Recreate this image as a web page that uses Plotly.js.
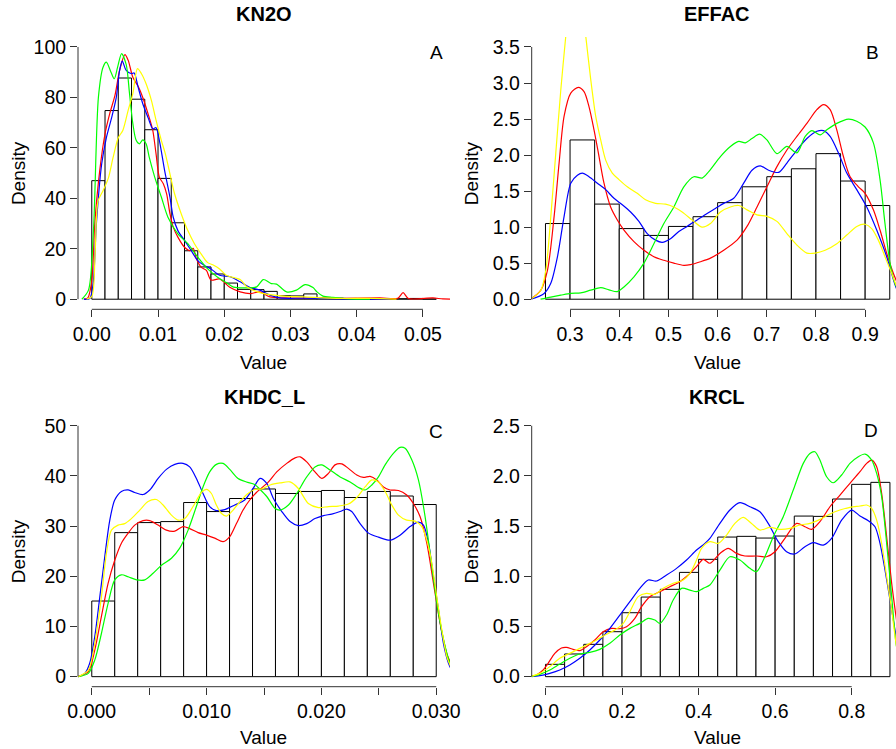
<!DOCTYPE html>
<html><head><meta charset="utf-8">
<script src="https://cdn.plot.ly/plotly-3.0.1.min.js"></script>
<style>html,body{margin:0;padding:0;background:#fff}#chart{width:896px;height:749px}</style>
</head><body><div id="chart"></div>
<script>
// ---------- Panel A: KN2O ----------
const kn2oEdges = [0,0.002,0.004,0.006,0.008,0.010,0.012,0.014,0.016,0.018,0.020,0.022,0.024,0.026,0.028,0.030,0.032,0.034,0.036,0.038,0.040,0.042,0.044,0.046,0.048,0.050,0.052];
const kn2oDensity = [47.0,74.8,87.7,79.3,67.2,47.9,30.3,19.2,12.8,10.0,6.4,3.9,3.8,3.1,1.4,1.3,2.1,0.5,0.4,0.3,0.2,0.1,0.1,0.2,0.3,0.1,0.2];
const kn2oRedX = [-0.0012,-0.0006,0,0.00045,0.0012,0.002,0.0027,0.0035,0.0042,0.005,0.0055,0.0062,0.007,0.0077,0.0085,0.0092,0.0097,0.0102,0.0108,0.0113,0.0118,0.0123,0.013,0.014,0.0148,0.0153,0.0158,0.0165,0.0173,0.018,0.0193,0.0209,0.0224,0.0239,0.0254,0.0269,0.029,0.033,0.038,0.0435,0.0462,0.047,0.0478,0.0515,0.053,0.055];
const kn2oRedY = [0,0.5,7.4,30,51,65.6,73.5,80.8,90.7,97,94.7,88,84.4,80,73.5,67,57.7,48.4,45.8,41.8,33.9,28.6,24.6,20.6,19.3,20.2,16,12.7,11.4,7.6,8.0,4.6,2.9,2.2,2.9,0.9,0.5,0.4,0.3,0.5,0.4,2.6,0.3,0.5,0.1,0];
const kn2oBlueX = [-0.0012,-0.0003,0.0002,0.0007,0.0015,0.0022,0.003,0.0037,0.0042,0.0046,0.0052,0.006,0.0064,0.007,0.0077,0.0085,0.0092,0.0097,0.0102,0.011,0.0118,0.0123,0.013,0.014,0.015,0.016,0.017,0.018,0.0193,0.0209,0.0224,0.0239,0.0254,0.0269,0.0284,0.032,0.036,0.04,0.045];
const kn2oBlueY = [0,0.3,6,30,53.7,64,72,80,90.7,94.4,90.7,89.4,89.7,84,77.5,72,67.6,68,63,51,40.5,32.5,27.2,23.3,19.3,15.3,13.4,12,9.5,8.9,6.9,4.6,3.6,1.6,0.5,0.4,0.2,0.05,0];
const kn2oGreenX = [-0.0015,-0.0005,0.00025,0.001,0.0017,0.0022,0.0029,0.0034,0.0039,0.0045,0.0052,0.0057,0.0062,0.0067,0.0072,0.0077,0.0082,0.0087,0.0095,0.0105,0.0115,0.013,0.0145,0.016,0.0175,0.019,0.0203,0.0214,0.0234,0.0249,0.0259,0.0271,0.0279,0.0294,0.0309,0.0322,0.0334,0.034,0.0349,0.0364,0.039,0.042];
const kn2oGreenY = [0,3.6,27,80,92,94,90,87.4,92,97.4,93,81.5,69.6,63,61.6,63.2,61.6,56,48.4,40.5,32.5,25.9,22,16.7,12,8.7,6.6,4.8,4.5,4.9,7.8,6.2,6,2.9,3.6,5.8,4.6,2.9,1.2,0.7,0.1,0];
const kn2oYellowX = [-0.0008,0,0.0005,0.00095,0.0017,0.0025,0.0032,0.004,0.0047,0.0055,0.0062,0.0069,0.0075,0.0082,0.009,0.0097,0.0105,0.0111,0.0118,0.0125,0.0135,0.0145,0.0155,0.0165,0.0175,0.0184,0.0193,0.0203,0.0224,0.0234,0.025,0.0264,0.029,0.032,0.037,0.042,0.046];
const kn2oYellowY = [0,1,18,39,43,48,56,64,67,75,81.5,91.4,89.4,85.4,78.8,71,63,57.7,49.7,41.8,33.9,27.2,22,18,14.5,13.5,12,9.5,7.8,4.9,2.9,2.0,1.2,0.9,0.3,0.3,0];

// ---------- Panel B: EFFAC ----------
const effacEdges = [0.25,0.30,0.35,0.40,0.45,0.50,0.55,0.60,0.65,0.70,0.75,0.80,0.85,0.90,0.95];
const effacDensity = [1.05,2.21,1.32,0.98,0.885,1.01,1.145,1.34,1.56,1.70,1.81,2.02,1.64,1.30];
const effacRedX = [0.2203,0.2406,0.254,0.2676,0.2777,0.2879,0.3014,0.317,0.3284,0.3386,0.3487,0.3589,0.369,0.3825,0.3961,0.4096,0.4299,0.4502,0.4704,0.4907,0.511,0.5313,0.5448,0.5651,0.5854,0.6124,0.6395,0.6598,0.6801,0.7003,0.7206,0.7409,0.7612,0.7815,0.8017,0.8153,0.8288,0.8423,0.8558,0.8694,0.8863,0.8998,0.9167,0.9302,0.9437,0.9573,0.97];
const effacRedY = [0,0.125,0.40,1.15,1.89,2.54,2.86,2.94,2.88,2.67,2.35,1.98,1.61,1.28,1.10,0.96,0.80,0.68,0.59,0.54,0.50,0.47,0.48,0.52,0.57,0.68,0.82,1.01,1.28,1.56,1.84,2.07,2.26,2.44,2.63,2.70,2.63,2.35,1.98,1.70,1.56,1.47,1.24,0.96,0.64,0.36,0.15];
const effacBlueX = [0.2203,0.2473,0.2608,0.2744,0.2879,0.3014,0.3149,0.325,0.3386,0.3555,0.3724,0.3893,0.4062,0.4231,0.44,0.4569,0.4738,0.4873,0.5042,0.5211,0.538,0.5583,0.5786,0.5955,0.6124,0.6327,0.653,0.6699,0.6868,0.7037,0.724,0.7409,0.7612,0.7815,0.8017,0.8153,0.8288,0.8457,0.8626,0.8829,0.9032,0.9235,0.9437,0.9613,0.97];
const effacBlueY = [0,0.08,0.22,0.59,1.15,1.61,1.72,1.75,1.70,1.61,1.52,1.40,1.31,1.21,1.08,0.91,0.82,0.79,0.84,0.94,1.01,1.10,1.19,1.26,1.33,1.40,1.61,1.79,1.85,1.79,1.76,1.89,2.07,2.23,2.33,2.34,2.26,2.03,1.75,1.52,1.28,0.96,0.59,0.19,0.05];
const effacGreenX = [0.24,0.2608,0.2811,0.3014,0.3217,0.342,0.3623,0.3791,0.3961,0.4096,0.4299,0.4502,0.4704,0.4907,0.511,0.5313,0.5516,0.5685,0.582,0.6057,0.626,0.6429,0.6564,0.6699,0.6855,0.7003,0.7206,0.7409,0.7612,0.7781,0.7916,0.8085,0.822,0.8423,0.866,0.8829,0.8998,0.9167,0.9302,0.9403,0.9505,0.9606,0.97];
const effacGreenY = [0,0.03,0.056,0.08,0.088,0.125,0.16,0.13,0.105,0.17,0.31,0.50,0.77,1.05,1.28,1.56,1.70,1.68,1.77,1.98,2.12,2.19,2.17,2.23,2.29,2.21,2.02,2.12,2.03,2.26,2.34,2.28,2.35,2.44,2.50,2.47,2.39,2.17,1.66,1.05,0.50,0.22,0.08];
const effacYellowX = [0.2203,0.2406,0.2507,0.2609,0.271,0.2811,0.2913,0.30,0.312,0.322,0.3319,0.342,0.3521,0.3623,0.3724,0.3859,0.3995,0.4164,0.4366,0.4535,0.4738,0.4941,0.511,0.5279,0.5516,0.5685,0.5854,0.6057,0.626,0.6429,0.6598,0.6801,0.7003,0.7206,0.7409,0.7612,0.7815,0.7984,0.8187,0.8423,0.8626,0.8829,0.8998,0.9133,0.9268,0.9403,0.9539,0.9613,0.97];
const effacYellowY = [0,0.125,0.40,1.15,2.03,2.9,3.65,4.2,4.5,4.2,3.65,3.05,2.54,2.21,1.93,1.75,1.66,1.56,1.47,1.38,1.33,1.32,1.28,1.21,1.08,1.0,1.05,1.21,1.28,1.30,1.24,1.17,1.15,1.08,0.91,0.75,0.64,0.64,0.68,0.77,0.89,1.01,1.04,0.98,0.82,0.59,0.36,0.22,0.1];

// ---------- Panel C: KHDC_L ----------
const khdcEdges = [0,0.002,0.004,0.006,0.008,0.010,0.012,0.014,0.016,0.018,0.020,0.022,0.024,0.026,0.028,0.030];
const khdcDensity = [15.07,28.7,30.7,30.9,34.7,32.9,35.5,37.4,36.5,36.9,37.1,35.7,36.9,36.0,34.3];
const khdcRedX = [-0.0012,-0.0003,0.00026,0.00084,0.00142,0.002,0.00258,0.00317,0.00374,0.00447,0.00505,0.00578,0.0065,0.00723,0.00795,0.00853,0.00926,0.00999,0.01071,0.01144,0.01202,0.0126,0.01318,0.01376,0.01434,0.01539,0.01611,0.01698,0.01771,0.01815,0.01872,0.01944,0.02003,0.02061,0.02119,0.02177,0.02235,0.02308,0.02366,0.02424,0.02482,0.0254,0.02598,0.02671,0.02743,0.02801,0.02859,0.02918,0.02976,0.03034,0.03092,0.0313];
const khdcRedY = [0,1.0,5.3,12.0,18.6,23.2,26.6,28.6,30.2,31.1,31.1,30.2,29.2,29.0,29.9,29.5,28.7,28.2,27.6,26.9,27.9,30.5,33.2,35.2,36.7,38.8,40.8,42.5,43.6,43.8,42.8,40.8,39.5,40.5,42.2,42.4,41.5,40.2,39.7,39.9,39.2,37.8,37.2,37.1,36.2,34.5,31.9,26.6,18.6,10.6,4.6,2.5];
const khdcBlueX = [-0.0012,-0.0006,-0.00018,0.00026,0.0007,0.00113,0.00157,0.002,0.00258,0.00317,0.00374,0.00447,0.00505,0.00578,0.0065,0.00723,0.00795,0.00853,0.00911,0.00969,0.01027,0.01085,0.01158,0.01245,0.01332,0.01405,0.01466,0.01524,0.01582,0.01655,0.01727,0.01799,0.01872,0.01944,0.02018,0.0209,0.02163,0.0222,0.02264,0.02337,0.0241,0.02497,0.02598,0.02685,0.02772,0.02845,0.02889,0.02933,0.02976,0.0302,0.03063,0.03107,0.0313];
const khdcBlueY = [0,0.66,2.66,8.0,15.9,23.9,31.2,35.2,36.9,37.2,36.7,36.3,37.2,39.5,41.3,42.3,42.5,41.8,39.5,36.5,33.9,33.1,33.3,34.2,35.2,37.5,39.5,38.5,35.5,32.9,30.9,30.1,30.5,31.5,32.1,32.4,32.9,33.4,32.9,30.5,28.6,27.8,27.2,28.2,29.9,30.8,30.2,26.6,19.9,13.3,6.6,2.66,1.5];
const khdcGreenX = [-0.0012,-0.0003,0.00026,0.00084,0.00142,0.002,0.00258,0.00317,0.0039,0.00462,0.00534,0.00607,0.00694,0.00766,0.00839,0.00911,0.00969,0.01027,0.01085,0.01144,0.01202,0.01274,0.01347,0.01419,0.01466,0.01524,0.01597,0.0164,0.01713,0.01785,0.01872,0.01944,0.02003,0.02075,0.02163,0.0225,0.02323,0.02381,0.02439,0.02497,0.02555,0.02627,0.02685,0.02729,0.02787,0.02845,0.02903,0.02962,0.0302,0.03078,0.03121,0.0314];
const khdcGreenY = [0,0.66,3.3,8.6,14.6,19.3,20.3,19.9,19.3,19.3,20.6,22.2,23.6,25.6,29.2,33.9,37.8,40.8,42.3,42.5,41.3,39.5,38.8,38.3,37.3,35.9,33.5,33.2,34.2,36.5,39.8,41.8,42.2,41.2,39.8,38.8,37.7,37.2,38.2,39.8,42.2,44.5,45.7,45.5,43.2,39.2,31.9,21.9,12.6,6.0,2.66,2.0];
const khdcYellowX = [-0.0012,-0.0003,0.00026,0.00084,0.00128,0.00171,0.00229,0.00287,0.00345,0.00418,0.0049,0.00563,0.00621,0.00694,0.00752,0.0081,0.00882,0.00955,0.00999,0.01042,0.01085,0.0113,0.01173,0.01231,0.01303,0.01361,0.01419,0.01478,0.01553,0.0164,0.01727,0.01799,0.01886,0.01974,0.02061,0.02148,0.02235,0.02308,0.0238,0.02439,0.02497,0.02555,0.02613,0.02671,0.02743,0.02816,0.02874,0.02918,0.02962,0.03005,0.03049,0.03092,0.0313];
const khdcYellowY = [0,1.3,6.6,15.9,24.6,29.2,30.2,30.5,31.5,33.2,34.9,35.3,34.2,32.2,31.2,31.5,33.9,36.7,37.3,36.5,34.2,32.5,32.0,33.2,35.2,36.5,37.3,37.4,38.2,38.6,38.8,37.5,34.5,33.7,33.9,34.0,34.4,35.7,37.8,39.2,38.8,36.9,34.2,32.2,31.2,31.0,29.9,27.2,22.6,15.9,9.3,4.0,1.8];

// ---------- Panel D: KRCL ----------
const krclEdges = [0,0.05,0.10,0.15,0.20,0.25,0.30,0.35,0.40,0.45,0.50,0.55,0.60,0.65,0.70,0.75,0.80,0.85,0.90];
const krclDensity = [0.123,0.226,0.322,0.448,0.637,0.793,0.870,1.039,1.169,1.391,1.398,1.381,1.401,1.600,1.597,1.770,1.916,1.936];
const krclRedX = [-0.041,-0.0236,-0.006,0.0069,0.0243,0.0417,0.0548,0.0722,0.0897,0.1071,0.129,0.1507,0.1725,0.1943,0.2117,0.2335,0.251,0.2727,0.2989,0.325,0.3511,0.373,0.3947,0.4121,0.4296,0.4557,0.4775,0.4993,0.521,0.5516,0.5777,0.5996,0.6256,0.6561,0.6779,0.6953,0.7171,0.7432,0.7694,0.7955,0.8217,0.8391,0.8522,0.8653,0.8783,0.8914,0.9045,0.9159,0.925];
const krclRedY = [0,0.017,0.066,0.133,0.232,0.286,0.292,0.272,0.259,0.299,0.365,0.448,0.481,0.478,0.498,0.581,0.697,0.797,0.847,0.896,0.946,1.013,1.096,1.169,1.13,1.228,1.278,1.228,1.202,1.202,1.195,1.245,1.378,1.527,1.494,1.467,1.544,1.693,1.809,1.926,2.042,2.125,2.158,2.092,1.826,1.394,0.930,0.598,0.35];
const krclBlueX = [-0.041,-0.0149,0.0112,0.0374,0.0636,0.0897,0.1159,0.142,0.1682,0.1943,0.2205,0.2466,0.2684,0.2902,0.3163,0.3424,0.3686,0.3947,0.4165,0.4295,0.4557,0.4818,0.508,0.5341,0.5603,0.582,0.6082,0.6299,0.6517,0.6779,0.6997,0.7258,0.7476,0.7737,0.7999,0.8217,0.8435,0.8609,0.874,0.8871,0.9001,0.9132,0.925];
const krclBlueY = [0,0.01,0.033,0.066,0.116,0.183,0.266,0.365,0.481,0.614,0.747,0.880,0.963,0.953,1.013,1.079,1.162,1.262,1.328,1.378,1.527,1.660,1.733,1.693,1.643,1.527,1.345,1.245,1.222,1.295,1.335,1.311,1.378,1.560,1.660,1.600,1.554,1.494,1.328,1.062,0.764,0.465,0.2];
const krclGreenX = [-0.041,-0.0149,0.0112,0.0374,0.0636,0.0897,0.1159,0.142,0.1682,0.1943,0.2205,0.2466,0.2684,0.2858,0.2989,0.3163,0.3337,0.3555,0.3773,0.3947,0.4121,0.4295,0.4557,0.4818,0.508,0.5341,0.5516,0.5733,0.5951,0.6212,0.6474,0.6735,0.6909,0.704,0.717,0.7345,0.7519,0.7737,0.7955,0.8173,0.8348,0.8522,0.8653,0.8783,0.8914,0.9045,0.9159,0.925];
const krclGreenY = [0,0.023,0.066,0.126,0.183,0.226,0.242,0.272,0.332,0.415,0.481,0.531,0.581,0.564,0.531,0.614,0.764,0.880,0.863,0.847,0.880,0.913,1.062,1.195,1.162,1.079,1.046,1.195,1.394,1.594,1.859,2.125,2.224,2.241,2.158,1.992,1.932,2.009,2.125,2.191,2.218,2.158,2.025,1.793,1.328,0.797,0.332,0.15];
const krclYellowX = [-0.041,-0.0149,0.0112,0.0374,0.0636,0.0897,0.1159,0.1333,0.1594,0.1813,0.2031,0.2205,0.2423,0.2641,0.2858,0.3076,0.3337,0.3599,0.3773,0.3947,0.4078,0.4295,0.4513,0.4731,0.4949,0.5166,0.5384,0.5603,0.5864,0.6125,0.6387,0.6648,0.691,0.7171,0.7432,0.7694,0.7955,0.8217,0.8391,0.8522,0.8653,0.8783,0.8914,0.9045,0.9159,0.925];
const krclYellowY = [0,0.033,0.1,0.183,0.232,0.282,0.332,0.365,0.422,0.465,0.531,0.647,0.797,0.830,0.820,0.880,0.930,0.963,1.029,1.162,1.278,1.345,1.328,1.411,1.527,1.587,1.527,1.461,1.487,1.467,1.477,1.511,1.527,1.567,1.620,1.660,1.687,1.700,1.710,1.677,1.560,1.328,0.996,0.664,0.332,0.15];

// ---------- Tick labels ----------
const kn2oXTicks = [0,0.01,0.02,0.03,0.04,0.05];
const kn2oXLabels = ['0.00','0.01','0.02','0.03','0.04','0.05'];
const kn2oYTicks = [0,20,40,60,80,100];
const kn2oYLabels = ['0','20','40','60','80','100'];
const effacXTicks = [0.3,0.4,0.5,0.6,0.7,0.8,0.9];
const effacXLabels = ['0.3','0.4','0.5','0.6','0.7','0.8','0.9'];
const effacYTicks = [0,0.5,1.0,1.5,2.0,2.5,3.0,3.5];
const effacYLabels = ['0.0','0.5','1.0','1.5','2.0','2.5','3.0','3.5'];
const khdcXTicks = [0,0.005,0.010,0.015,0.020,0.025,0.030];
const khdcXLabels = ['0.000','','0.010','','0.020','','0.030'];
const khdcYTicks = [0,10,20,30,40,50];
const khdcYLabels = ['0','10','20','30','40','50'];
const krclXTicks = [0,0.2,0.4,0.6,0.8];
const krclXLabels = ['0.0','0.2','0.4','0.6','0.8'];
const krclYTicks = [0,0.5,1.0,1.5,2.0,2.5];
const krclYLabels = ['0.0','0.5','1.0','1.5','2.0','2.5'];

const panelTitles = ['KN2O','EFFAC','KHDC_L','KRCL'];
const panelLetters = ['A','B','C','D'];

// ---------- Layout helpers ----------
const W = 896, H = 749;
const FONT = 'Liberation Sans, Arial, Helvetica, sans-serif';
const colors = {red:'#ff0000', blue:'#0000ff', green:'#00ff00', yellow:'#ffff00'};

const panels = [
  {edges:kn2oEdges, dens:kn2oDensity, curves:[[kn2oRedX,kn2oRedY,'red'],[kn2oBlueX,kn2oBlueY,'blue'],[kn2oGreenX,kn2oGreenY,'green'],[kn2oYellowX,kn2oYellowY,'yellow']],
   xt:kn2oXTicks, xl:kn2oXLabels, yt:kn2oYTicks, yl:kn2oYLabels, xr:[-0.00208,0.05408], yr:[-4,104],
   box:[78,450,36.9,309.3], titleXY:[264,14], letterXY:[436,53], densX:18.5, valueY:362},
  {edges:effacEdges, dens:effacDensity, curves:[[effacRedX,effacRedY,'red'],[effacBlueX,effacBlueY,'blue'],[effacGreenX,effacGreenY,'green'],[effacYellowX,effacYellowY,'yellow']],
   xt:effacXTicks, xl:effacXLabels, yt:effacYTicks, yl:effacYLabels, xr:[0.222,0.9627], yr:[-0.14,3.64],
   box:[531.7,896,36.9,309.3], titleXY:[717,14], letterXY:[872,52.5], densX:471.7, valueY:362},
  {edges:khdcEdges, dens:khdcDensity, curves:[[khdcRedX,khdcRedY,'red'],[khdcBlueX,khdcBlueY,'blue'],[khdcGreenX,khdcGreenY,'green'],[khdcYellowX,khdcYellowY,'yellow']],
   xt:khdcXTicks, xl:khdcXLabels, yt:khdcYTicks, yl:khdcYLabels, xr:[-0.0012,0.0312], yr:[-2,52],
   box:[78,450,415.7,686.7], titleXY:[264,397], letterXY:[436,431.5], densX:18.5, valueY:null},
  {edges:krclEdges, dens:krclDensity, curves:[[krclRedX,krclRedY,'red'],[krclBlueX,krclBlueY,'blue'],[krclGreenX,krclGreenY,'green'],[krclYellowX,krclYellowY,'yellow']],
   xt:krclXTicks, xl:krclXLabels, yt:krclYTicks, yl:krclYLabels, xr:[-0.036,0.9158], yr:[-0.1,2.6],
   box:[531.7,896,415.7,686.7], titleXY:[717,397], letterXY:[871,430], densX:471.7, valueY:null}
];

const traces = [];
const layout = {
  width: W, height: H,
  margin: {l:0, r:0, t:0, b:0, pad:0},
  paper_bgcolor: '#ffffff', plot_bgcolor: '#ffffff',
  showlegend: false, barmode: 'overlay', bargap: 0,
  font: {family: FONT, color: '#000000'},
  annotations: [], shapes: []
};

panels.forEach((p, i) => {
  const n = i + 1;
  const xa = n === 1 ? 'x' : 'x' + n;
  const ya = n === 1 ? 'y' : 'y' + n;
  const centers = [], widths = [];
  for (let k = 0; k < p.dens.length; k++) {
    centers.push((p.edges[k] + p.edges[k + 1]) / 2);
    widths.push(p.edges[k + 1] - p.edges[k]);
  }
  traces.push({type:'bar', x:centers, y:p.dens, width:widths, xaxis:xa, yaxis:ya,
    marker:{color:'#ffffff', line:{color:'#000000', width:1}}, hoverinfo:'skip'});
  p.curves.forEach(c => {
    traces.push({type:'scatter', mode:'lines', x:c[0], y:c[1], xaxis:xa, yaxis:ya,
      line:{color:colors[c[2]], width:1.2, shape:'spline', smoothing:0.8}, hoverinfo:'skip'});
  });
  const [x0, x1, y0, y1] = p.box;
  const axCommon = {showgrid:false, zeroline:false, showline:false, ticks:'outside', ticklen:7,
    tickwidth:1, tickcolor:'#333333', tickmode:'array', fixedrange:true,
    tickfont:{family:FONT, size:19.5, color:'#000000'}};
  layout['xaxis' + (n === 1 ? '' : n)] = Object.assign({}, axCommon, {
    domain:[x0 / W, x1 / W], range:p.xr, anchor:ya, tickvals:p.xt, ticktext:p.xl});
  layout['yaxis' + (n === 1 ? '' : n)] = Object.assign({}, axCommon, {
    domain:[1 - y1 / H, 1 - y0 / H], range:p.yr, anchor:xa, tickvals:p.yt, ticktext:p.yl, tickangle:0});
  // axis lines spanning first to last tick (R style)
  layout.shapes.push({type:'line', xref:xa, yref:ya + ' domain', x0:p.xt[0], x1:p.xt[p.xt.length - 1], y0:0, y1:0,
    line:{color:'#333333', width:1}});
  layout.shapes.push({type:'line', xref:xa + ' domain', yref:ya, x0:0, x1:0, y0:p.yt[0], y1:p.yt[p.yt.length - 1],
    line:{color:'#333333', width:1}});
  // texts
  layout.annotations.push({text:'<b>' + panelTitles[i] + '</b>', xref:'paper', yref:'paper',
    x:p.titleXY[0] / W, y:1 - p.titleXY[1] / H, xanchor:'center', yanchor:'middle', showarrow:false,
    font:{family:FONT, size:20, color:'#000000'}});
  layout.annotations.push({text:panelLetters[i], xref:'paper', yref:'paper',
    x:p.letterXY[0] / W, y:1 - p.letterXY[1] / H, xanchor:'center', yanchor:'middle', showarrow:false,
    font:{family:FONT, size:19, color:'#000000'}});
  layout.annotations.push({text:'Density', xref:'paper', yref:'paper', textangle:-90,
    x:p.densX / W, y:1 - ((y0 + y1) / 2 + 0.5) / H, xanchor:'center', yanchor:'middle', showarrow:false,
    font:{family:FONT, size:19, color:'#000000'}});
  const valueX = ((x0 + (i % 2 === 1 ? 903.7 : x1)) / 2 - 0.5) / W;
  if (p.valueY !== null) {
    layout.annotations.push({text:'Value', xref:'paper', yref:'paper',
      x:valueX, y:1 - p.valueY / H, xanchor:'center', yanchor:'middle', showarrow:false,
      font:{family:FONT, size:19, color:'#000000'}});
  } else {
    layout.annotations.push({text:'Value', xref:'paper', yref:'paper',
      x:valueX, y:0, xanchor:'center', yanchor:'bottom', showarrow:false, borderpad:0,
      font:{family:FONT, size:19, color:'#000000'}});
  }
});

Plotly.newPlot('chart', traces, layout, {staticPlot:true, displayModeBar:false});
</script>
</body></html>
